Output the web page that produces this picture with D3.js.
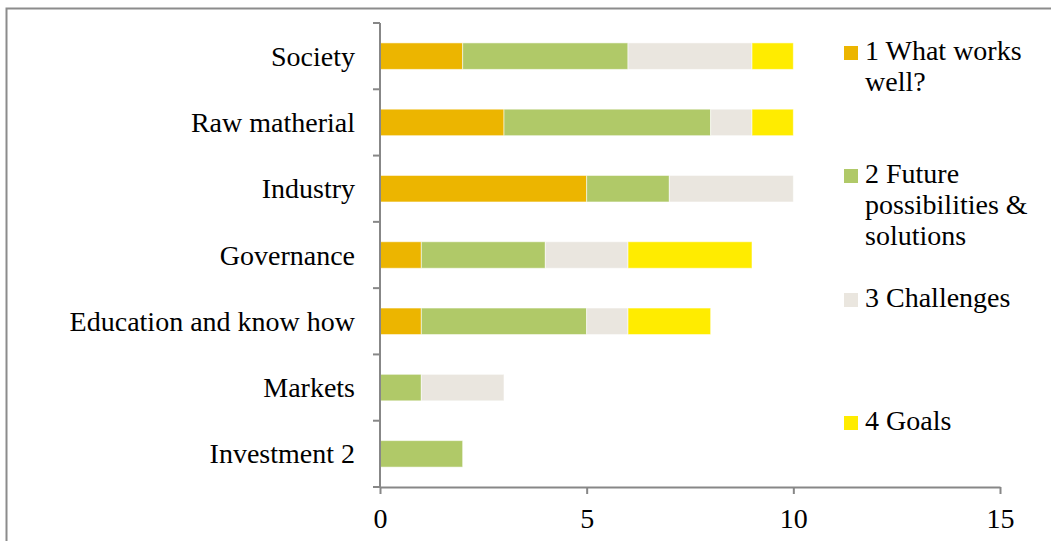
<!DOCTYPE html>
<html>
<head>
<meta charset="utf-8">
<script src="https://cdn.jsdelivr.net/npm/d3@7"></script>
<style>
  html, body { margin: 0; padding: 0; background: #fff; }
  svg { display: block; }
  text { font-family: "Liberation Serif", "Times New Roman", serif; fill: #000; }
</style>
</head>
<body>
<svg id="chart" width="1051" height="541"></svg>
<script>
// Categories, listed top to bottom
const categories = ["Society", "Raw matherial", "Industry", "Governance",
                    "Education and know how", "Markets", "Investment 2"];

// Series values per category
const worksWell   = [2, 3, 5, 1, 1, 0, 0];
const future      = [4, 5, 2, 3, 4, 1, 2];
const challenges  = [3, 1, 3, 2, 1, 2, 0];
const goals       = [1, 1, 0, 3, 2, 0, 0];

const seriesNames = ["1 What works well?", "2 Future possibilities & solutions",
                     "3 Challenges", "4 Goals"];
const legendLines = [["1 What works", "well?"],
                     ["2 Future", "possibilities &", "solutions"],
                     ["3 Challenges"],
                     ["4 Goals"]];
const colors = ["#ECB500", "#B0C968", "#EAE6DF", "#FFEC00"];
const xTicks = [0, 5, 10, 15];

const svg = d3.select("#chart");
const W = 1051, H = 541;
const plotLeft = 380, plotRight = 1000, plotTop = 23, plotBottom = 487;
const fontSize = 28;
const axisColor = "#878787";

// outer frame
svg.append("rect")
  .attr("x", 6.5).attr("y", 8.5)
  .attr("width", W + 20).attr("height", H + 20)
  .attr("fill", "none").attr("stroke", "#8c8c8c").attr("stroke-width", 2);

const rows = categories.map((c, i) => ({
  category: c,
  s0: worksWell[i], s1: future[i], s2: challenges[i], s3: goals[i]
}));
const keys = ["s0", "s1", "s2", "s3"];
const stacked = d3.stack().keys(keys)(rows);

const x = d3.scaleLinear().domain([0, 15]).range([plotLeft, plotRight]);
const y = d3.scaleBand().domain(categories).range([plotTop, plotBottom]).paddingInner(0.6).paddingOuter(0.3);
const yEdges = d3.scaleLinear().domain([0, categories.length]).range([plotTop, plotBottom]);

// bars
const g = svg.append("g");
stacked.forEach((layer, k) => {
  g.selectAll(null).data(layer.filter(d => d[1] > d[0])).enter()
    .append("rect")
    .attr("x", d => x(d[0]))
    .attr("y", d => y(d.data.category))
    .attr("width", d => x(d[1]) - x(d[0]))
    .attr("height", y.bandwidth())
    .attr("fill", colors[k])
    .attr("stroke", "rgba(255,255,255,0.55)")
    .attr("stroke-width", 1);
});

// y axis with ticks at category boundaries
const yAxisG = svg.append("g");
yAxisG.append("line")
  .attr("x1", plotLeft).attr("x2", plotLeft).attr("y1", plotTop).attr("y2", plotBottom)
  .attr("stroke", axisColor).attr("stroke-width", 2);
yAxisG.selectAll(null).data(d3.range(categories.length + 1)).enter()
  .append("line")
  .attr("x1", plotLeft - 7).attr("x2", plotLeft)
  .attr("y1", d => yEdges(d)).attr("y2", d => yEdges(d))
  .attr("stroke", axisColor).attr("stroke-width", 2);
yAxisG.selectAll(null).data(categories).enter()
  .append("text")
  .attr("x", plotLeft - 25)
  .attr("y", d => y(d) + y.bandwidth() / 2)
  .attr("dy", "0.34em")
  .attr("text-anchor", "end")
  .attr("font-size", fontSize)
  .text(d => d);

// x axis
const xAxis = d3.axisBottom(x).tickValues(xTicks).tickSize(7).tickSizeOuter(0).tickFormat(d3.format("d"));
const xg = svg.append("g").attr("transform", `translate(0,${plotBottom})`).call(xAxis);
xg.select(".domain").attr("stroke", axisColor).attr("stroke-width", 2);
xg.selectAll(".tick line").attr("stroke", axisColor).attr("stroke-width", 2);
xg.selectAll(".tick text")
  .attr("font-family", "Liberation Serif, Times New Roman, serif")
  .attr("font-size", fontSize)
  .attr("fill", "#000")
  .attr("y", 0).attr("dy", 41);

// legend
const legendBaselines = [60, 183, 307, 430];
const lg = svg.append("g");
seriesNames.forEach((name, k) => {
  const yb = legendBaselines[k];
  lg.append("rect")
    .attr("x", 844).attr("y", yb - 14)
    .attr("width", 14).attr("height", 14)
    .attr("fill", colors[k]);
  const t = lg.append("text")
    .attr("x", 865).attr("y", yb)
    .attr("font-size", fontSize);
  legendLines[k].forEach((line, j) => {
    t.append("tspan").attr("x", 865).attr("y", yb + j * 31).text(line);
  });
});
</script>
</body>
</html>
